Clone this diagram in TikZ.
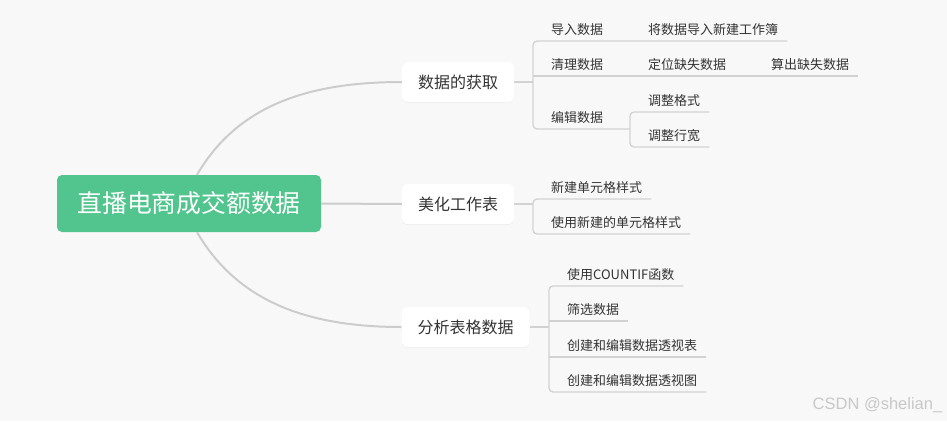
\documentclass[tikz,border=0pt]{standalone}
\usepackage{fontspec}
\setmainfont{Noto Sans CJK SC}
\newfontfamily\marksans{Liberation Sans}
\usetikzlibrary{shadows}
\definecolor{paper}{RGB}{248,248,248}
\definecolor{mint}{RGB}{82,196,141}
\definecolor{ink}{RGB}{51,51,51}
\definecolor{twiggray}{RGB}{210,210,210}
\definecolor{trunkgray}{RGB}{204,204,204}
\definecolor{markgray}{RGB}{200,200,200}
\tikzset{
  root/.style={fill=mint,rounded corners=5pt,minimum width=264pt,minimum height=57pt,text=white,font=\fontsize{24.8}{26}\selectfont},
  topic/.style={fill=white,rounded corners=6pt,minimum height=40pt,inner xsep=16pt,text=ink,font=\fontsize{16}{18}\selectfont,drop shadow={opacity=0.07,shadow xshift=0pt,shadow yshift=-1pt}},
  leaf/.style={anchor=south west,inner xsep=9pt,inner ysep=6pt,text height=9.5pt,text depth=0pt,text=ink,font=\fontsize{13}{15}\selectfont},
  trunk/.style={draw=trunkgray,line width=2pt},
  twig/.style={draw=twiggray,line width=1.3pt},
  fork/.style={twig,rounded corners=4pt},
  watermark/.style={text=markgray,font=\marksans\fontsize{16.5}{18}\selectfont}
}

\begin{document}
\begin{tikzpicture}[x=1pt,y=-1pt]
  \fill[paper] (0,0) rectangle (947,421);

  % centre and main topics
  \node[root] (root) at (189,203.5) {直播电商成交额数据};
  \node[topic] (get) at (458,82) {数据的获取};
  \node[topic] (style) at (458,204) {美化工作表};
  \node[topic] (calc) at (465.5,327) {分析表格数据};
  \draw[trunk] ([xshift=8pt]root.north) .. controls (235,110) and (300,82) .. (get.west);
  \draw[trunk] (root.east) -- (style.west);
  \draw[trunk] ([xshift=8pt]root.south) .. controls (235,297) and (300,327) .. (calc.west);

  % 数据的获取
  \coordinate (getfork) at (533,82);
  \coordinate (editfork) at (630,129);
  \node[leaf] (imp) at (542,41) {导入数据};
  \node[leaf] (impnew) at (639,41) {将数据导入新建工作簿};
  \node[leaf] (clean) at (542,76) {清理数据};
  \node[leaf] (locate) at (639,76) {定位缺失数据};
  \node[leaf] (fillin) at (762,76) {算出缺失数据};
  \node[leaf] (edit) at (542,129) {编辑数据};
  \node[leaf] (fmt) at (639,112) {调整格式};
  \node[leaf] (width) at (639,147) {调整行宽};
  \draw[twig] (get.east) -- (getfork);
  \draw[fork] (impnew.south east) -- (getfork |- imp.south) -- (getfork |- edit.south) -- (editfork);
  \draw[twig] (getfork |- clean.south) -- (fillin.south east);
  \draw[fork] (fmt.south east) -- (editfork |- fmt.south) -- (editfork |- width.south) -- (width.south east);

  % 美化工作表
  \coordinate (stylefork) at (533,204);
  \node[leaf] (newcell) at (542,199) {新建单元格样式};
  \node[leaf] (usecell) at (542,234) {使用新建的单元格样式};
  \draw[twig] (style.east) -- (stylefork);
  \draw[fork] (newcell.south east) -- (stylefork |- newcell.south) -- (stylefork |- usecell.south) -- (usecell.south east);

  % 分析表格数据
  \coordinate (calcfork) at (549,327);
  \node[leaf] (countif) at (558,286) {使用COUNTIF函数};
  \node[leaf] (filter) at (558,321) {筛选数据};
  \node[leaf] (pivott) at (558,357) {创建和编辑数据透视表};
  \node[leaf] (pivotc) at (558,392) {创建和编辑数据透视图};
  \draw[twig] (calc.east) -- (calcfork);
  \draw[fork] (countif.south east) -- (calcfork |- countif.south) -- (calcfork |- pivotc.south) -- (pivotc.south east);
  \draw[twig] (calcfork |- filter.south) -- (filter.south east);
  \draw[twig] (calcfork |- pivott.south) -- (pivott.south east);

  \node[watermark] (csdn) at (877.5,405) {CSDN @shelian\_};
\end{tikzpicture}
\end{document}
